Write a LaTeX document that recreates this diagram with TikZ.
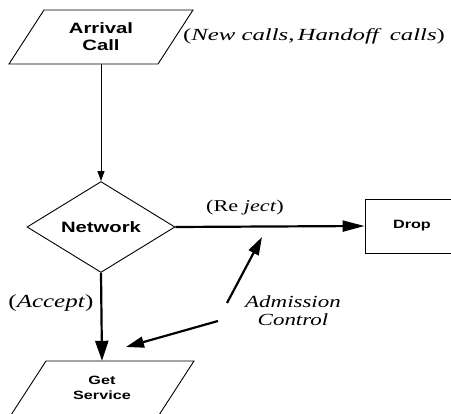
\documentclass[tikz,border=0pt]{standalone}
\usepackage{fontspec}
\usetikzlibrary{shapes.geometric,arrows.meta}
\newfontfamily\hv[FakeStretch=1.35]{Liberation Sans}
\newfontfamily\tm[FakeStretch=1.35]{Liberation Serif}
\begin{document}
\begin{tikzpicture}[x=1pt,y=-1pt,
  thinln/.style={line width=0.9pt},
  thickln/.style={line width=2.2pt},
  bigsans/.style={font=\hv\bfseries\fontsize{15}{17}\selectfont, align=center},
  smallsans/.style={font=\hv\bfseries\fontsize{12}{15.5}\selectfont, align=center},
  seriflbl/.style={font=\tm\fontsize{15}{18}\selectfont, inner sep=0pt},
  textbox/.style={inner sep=0pt, minimum width=110pt, minimum height=54pt}]
\useasboundingbox (0,0) rectangle (451,414);

% Arrival Call parallelogram
\draw[thinln] (44,10) -- (193,10) -- (158,64) -- (9,64) -- cycle;
\node[textbox, bigsans] (arr) at (101,37) {Arrival\\Call};
\node[seriflbl, font=\tm\fontsize{17}{18}\selectfont] (newc) at (314,36) {\scalebox{1.08}[1]{(\textit{New calls},\,\textit{Handoff\hspace{0.6em}calls})}};

% Network diamond
\node[diamond, draw, thinln, minimum width=148pt, minimum height=80pt, inner sep=0pt, bigsans] (net) at (101,227) {Network};

% Drop box
\node[draw, thinln, minimum width=86pt, minimum height=54pt, inner sep=0pt, smallsans] (drop) at (408,226) {\hspace{8pt}Drop};

% Get Service parallelogram
\draw[thinln] (46,361) -- (194,361) -- (159,415) -- (11,415) -- cycle;
\node[textbox, smallsans] (get) at (102,388) {Get\\Service};

% connectors
\draw[thinln, -{Triangle[length=10pt,width=7pt]}] (arr.south) -- (net.north);
\draw[thickln, -{Triangle[length=22pt,width=11pt]}] (net.east) -- (drop.west);
\draw[thickln, -{Triangle[length=20pt,width=13pt]}] (net.south) -- (get.north);

% labels
\node[seriflbl, font=\tm\fontsize{16.5}{18}\selectfont] (rej) at (245,208) {(Re \textit{ject})};
\node[seriflbl, font=\tm\fontsize{18.5}{18}\selectfont] (acc) at (51,303) {(\textit{Accept})};
\node[seriflbl, font=\tm\itshape\fontsize{17}{18}\selectfont, align=center] (adm) at (293,311) {Admission\\Control};

% admission control arrows
\coordinate (c1) at (227,303);
\coordinate (t1) at (262,237);
\coordinate (c2) at (218,321);
\coordinate (t2) at (126,347);
\draw[thickln, -{Triangle[length=18pt,width=11pt]}] (c1) -- (t1);
\draw[thickln, -{Triangle[length=18pt,width=11pt]}] (c2) -- (t2);
\end{tikzpicture}
\end{document}
